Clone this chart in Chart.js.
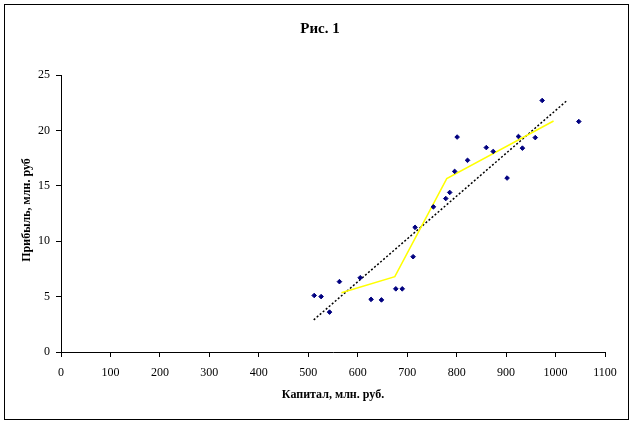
<!DOCTYPE html>
<html>
<head>
<meta charset="utf-8">
<script src="https://cdn.jsdelivr.net/npm/chart.js@4/dist/chart.umd.min.js"></script>
<style>
  html, body { margin: 0; padding: 0; background: #fff; }
  #wrap { width: 634px; height: 424px; position: relative; }
</style>
</head>
<body>
<div id="wrap"><canvas id="chart" width="634" height="424"></canvas></div>
<script>
/* =========================================================
   DATA
========================================================= */
const capital = [512, 526, 543, 563, 605, 627, 648, 677, 690, 712, 716,
                 753, 778, 786, 796, 801, 822, 860, 874, 902, 925, 933,
                 959, 973, 1047];
const profit  = [5.1, 5.0, 3.6, 6.35, 6.7, 4.75, 4.7, 5.7, 5.7, 8.6, 11.25,
                 13.1, 13.85, 14.4, 16.3, 19.4, 17.3, 18.45, 18.1, 15.7, 19.45, 18.4,
                 19.35, 22.7, 20.8];

// linear trend (end points)
const trendX = [511, 1022];
const trendY = [2.9, 22.65];

// moving average
const avgX = [567, 675, 780, 996];
const avgY = [5.35, 6.8, 15.65, 20.85];

const xTicks = [0, 100, 200, 300, 400, 500, 600, 700, 800, 900, 1000, 1100];
const yTicks = [0, 5, 10, 15, 20, 25];

const SERIF = "'Liberation Serif', 'Times New Roman', serif";

function toPoints(xs, ys) {
  return xs.map((x, i) => ({ x, y: ys[i] }));
}

/* =========================================================
   FRAME + TITLES
========================================================= */
const framePlugin = {
  id: "frame",
  afterDraw(chart) {
    const c = chart.ctx;
    c.save();
    c.strokeStyle = "#000";
    c.lineWidth = 1;
    c.strokeRect(4.5, 4.5, 624, 415);

    c.fillStyle = "#000";
    c.textAlign = "center";
    c.textBaseline = "middle";
    c.font = "bold 15px " + SERIF;
    c.fillText("Рис. 1", 320, 29);

    c.font = "bold 12px " + SERIF;
    c.fillText("Капитал, млн. руб.", 333, 395);

    c.translate(27, 210);
    c.rotate(-Math.PI / 2);
    c.fillText("Прибыль, млн. руб", 0, 0);
    c.restore();
  }
};

/* =========================================================
   CHART
========================================================= */
new Chart(document.getElementById("chart"), {
  type: "scatter",
  data: {
    datasets: [
      {
        label: "Прибыль",
        data: toPoints(capital, profit),
        pointStyle: "rectRot",
        pointRadius: 2.3,
        backgroundColor: "#000080",
        borderColor: "#000080",
        borderWidth: 1,
        order: 1
      },
      {
        label: "Линейный тренд",
        data: toPoints(trendX, trendY),
        showLine: true,
        pointRadius: 0,
        borderColor: "#000",
        borderWidth: 1.5,
        borderDash: [2, 2],
        order: 3
      },
      {
        label: "Скользящее среднее",
        data: toPoints(avgX, avgY),
        showLine: true,
        pointRadius: 0,
        borderColor: "#ffff00",
        borderWidth: 1.5,
        order: 2
      }
    ]
  },
  options: {
    responsive: false,
    animation: false,
    layout: { padding: { top: 75, right: 29, left: 0, bottom: 0 } },
    plugins: {
      legend: { display: false },
      tooltip: { enabled: false }
    },
    scales: {
      x: {
        type: "linear",
        min: 0,
        max: 1100,
        afterBuildTicks: s => { s.ticks = xTicks.map(v => ({ value: v })); },
        afterFit: s => { s.height = 72; },
        grid: { drawOnChartArea: false, tickLength: 5, color: "#000" },
        border: { color: "#000", width: 1 },
        ticks: {
          color: "#000",
          padding: 9,
          maxRotation: 0,
          callback: v => String(v),
          font: { family: SERIF, size: 12 }
        }
      },
      y: {
        type: "linear",
        min: 0,
        max: 25,
        afterBuildTicks: s => { s.ticks = yTicks.map(v => ({ value: v })); },
        afterFit: s => { s.width = 61; },
        grid: { drawOnChartArea: false, tickLength: 5, color: "#000" },
        border: { color: "#000", width: 1 },
        ticks: {
          color: "#000",
          padding: 6,
          callback: v => String(v),
          font: { family: SERIF, size: 12 }
        }
      }
    }
  },
  plugins: [framePlugin]
});
</script>
</body>
</html>
